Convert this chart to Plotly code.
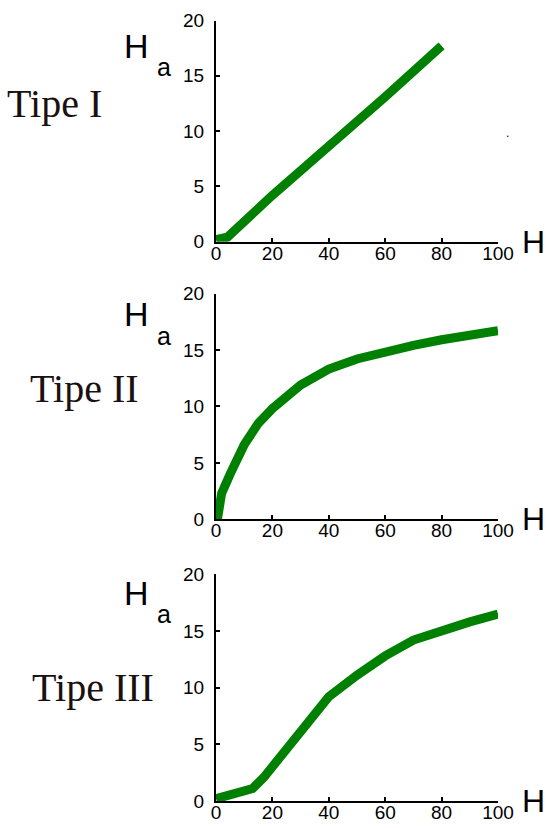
import plotly.graph_objects as go

W, H = 547, 828

# ---- data ----
tipe1_x = [0, 4, 20, 40, 60, 80]
tipe1_y = [0.2, 0.4, 4.2, 8.6, 13.1, 17.7]

tipe2_x = [0.5, 1, 2, 5, 10, 15, 20, 30, 40, 50, 60, 70, 80, 90, 100]
tipe2_y = [0, 1.2, 2.3, 4.0, 6.6, 8.5, 9.8, 11.9, 13.3, 14.2, 14.9, 15.4, 15.9, 16.3, 16.7]

tipe3_x = [0, 5, 10, 13, 17, 20, 30, 40, 50, 60, 70, 80, 90, 100]
tipe3_y = [0.2, 0.5, 0.8, 1.1, 2.1, 3.0, 6.1, 9.2, 11.1, 12.8, 14.2, 15.1, 15.8, 16.5]

panel_names = ["Tipe I", "Tipe II", "Tipe III"]
x_ticks = [0, 20, 40, 60, 80, 100]
y_ticks = [0, 5, 10, 15, 20]
x_label = "H"
y_label_main = "H"
y_label_sub = "a"

# ---- layout helpers (pixel -> paper) ----
def px(x):
    return x / W

def py(y):
    return 1 - y / H

x_dom = [px(216), px(498)]
# (bottom pixel of y=0, top pixel of y=20)
panels = [(241.7, 20.5), (519.3, 293.5), (801.0, 574.3)]
H_centers = [46, 314, 593]
a_centers = [67, 336, 614]
tipe_centers = [103, 388, 687]
tipe_left = [5, 28, 30]

fig = go.Figure()
series = [(tipe1_x, tipe1_y), (tipe2_x, tipe2_y), (tipe3_x, tipe3_y)]
green = "#008000"

layout = dict(
    width=W, height=H,
    margin=dict(l=0, r=0, t=0, b=0),
    paper_bgcolor="white", plot_bgcolor="white",
    showlegend=False,
)

tickfont = dict(family="Liberation Sans, Arial, sans-serif", size=19, color="black")
annotations = []
for i, ((xs, ys), (ybot, ytop)) in enumerate(zip(series, panels)):
    n = "" if i == 0 else str(i + 1)
    fig.add_trace(go.Scatter(
        x=xs, y=ys, mode="lines",
        line=dict(color=green, width=9),
        xaxis="x" + n, yaxis="y" + n, hoverinfo="skip",
    ))
    layout["xaxis" + n] = dict(
        domain=x_dom, range=[0, 100], anchor="y" + n,
        tickvals=x_ticks, ticks="inside", ticklen=4, tickwidth=1.5, tickcolor="black",
        showline=True, linecolor="black", linewidth=2,
        showgrid=False, zeroline=False, tickfont=tickfont, ticklabelstandoff=-7,
        automargin=False,
    )
    layout["yaxis" + n] = dict(
        domain=[py(ybot), py(ytop)], range=[0, 20], anchor="x" + n,
        tickvals=y_ticks, ticks="inside", ticklen=4, tickwidth=1.5, tickcolor="black",
        showline=True, linecolor="black", linewidth=2,
        showgrid=False, zeroline=False, tickfont=tickfont, ticklabelstandoff=6,
        automargin=False,
    )
    annotations.append(dict(
        text=y_label_main, x=px(136), y=py(H_centers[i]), xref="paper", yref="paper",
        xanchor="center", yanchor="middle", showarrow=False,
        font=dict(family="Liberation Sans, Arial, sans-serif", size=34, color="black"),
    ))
    annotations.append(dict(
        text=y_label_sub, x=px(164), y=py(a_centers[i]), xref="paper", yref="paper",
        xanchor="center", yanchor="middle", showarrow=False,
        font=dict(family="Liberation Sans, Arial, sans-serif", size=25, color="black"),
    ))
    annotations.append(dict(
        text=x_label, x=px(520), y=py(ybot), xref="paper", yref="paper",
        xanchor="left", yanchor="middle", showarrow=False,
        font=dict(family="Liberation Sans, Arial, sans-serif", size=32, color="black"),
    ))
    annotations.append(dict(
        text=panel_names[i], x=px(tipe_left[i]), y=py(tipe_centers[i]),
        xref="paper", yref="paper", xanchor="left", yanchor="middle", showarrow=False,
        font=dict(family="Liberation Serif, Times New Roman, serif", size=40, color="#1a1010"),
    ))

# stray dot seen in the original image
annotations.append(dict(
    text=".", x=px(507), y=py(133), xref="paper", yref="paper",
    xanchor="center", yanchor="middle", showarrow=False,
    font=dict(family="Liberation Sans, Arial, sans-serif", size=12, color="black"),
))

layout["annotations"] = annotations
fig.update_layout(**layout)
fig.write_html(
    "out.html",
    config={"displayModeBar": False},
    post_script="document.body.style.margin='0';document.body.style.overflow='hidden';",
)
